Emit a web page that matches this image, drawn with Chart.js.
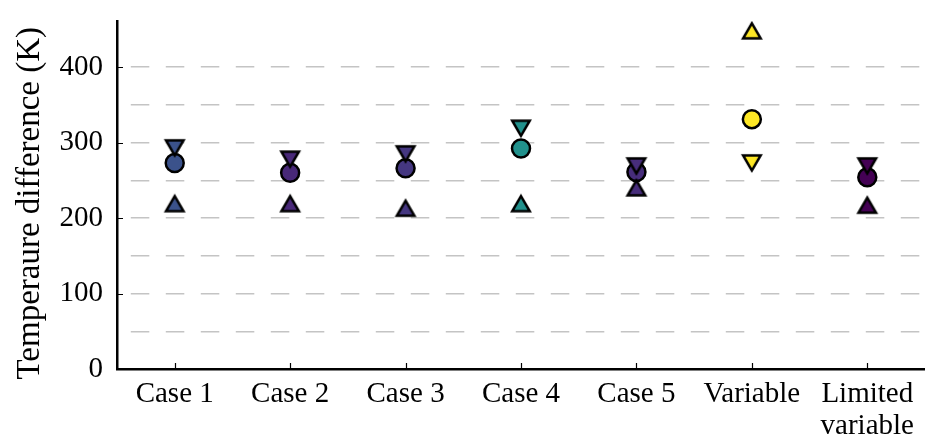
<!DOCTYPE html>
<html>
<head>
<meta charset="utf-8">
<script src="https://cdn.jsdelivr.net/npm/chart.js@4/dist/chart.umd.min.js"></script>
<style>
  html, body { margin: 0; padding: 0; background: #ffffff; }
  #wrap { width: 925px; height: 442px; position: relative; }
</style>
</head>
<body>
<div id="wrap"><canvas id="chart" width="925" height="442"></canvas></div>
<script>
// Simulation cases
const cases = ['Case 1', 'Case 2', 'Case 3', 'Case 4', 'Case 5', 'Variable', ['Limited', 'variable']];

// Temperature differences (K) per case
const maxDiff  = [293, 278, 285, 319, 269, 273, 269];
const meanDiff = [273, 260, 266, 292, 261, 331, 254];
const minDiff  = [219, 219, 213, 219, 240, 448, 217];

// One colour per case
const caseColors = ['#3b528b', '#482878', '#453781', '#21918c', '#472d7b', '#fde725', '#440154'];

const FONT = "'Liberation Serif', 'Times New Roman', serif";

// Triangle marker drawn around the centre of its bounding box
function triangleMarker(color, pointDown) {
  const size = 30;
  const c = document.createElement('canvas');
  c.width = size; c.height = size;
  const g = c.getContext('2d');
  const cx = size / 2, cy = size / 2;
  const hw = 8.8, hh = 7.6;
  g.beginPath();
  if (pointDown) {
    g.moveTo(cx, cy + hh);
    g.lineTo(cx - hw, cy - hh);
    g.lineTo(cx + hw, cy - hh);
  } else {
    g.moveTo(cx, cy - hh);
    g.lineTo(cx - hw, cy + hh);
    g.lineTo(cx + hw, cy + hh);
  }
  g.closePath();
  g.fillStyle = color;
  g.fill();
  g.lineWidth = 2.5;
  g.lineJoin = 'miter';
  g.strokeStyle = '#000000';
  g.stroke();
  return c;
}

const downMarkers = caseColors.map(c => triangleMarker(c, true));
const upMarkers = caseColors.map(c => triangleMarker(c, false));

// Inward tick marks on both axes
const inwardTicks = {
  id: 'inwardTicks',
  afterDraw(chart) {
    const ctx = chart.ctx;
    const xs = chart.scales.x, ys = chart.scales.y;
    ctx.save();
    ctx.strokeStyle = '#000000';
    ctx.lineWidth = 1.2;
    ctx.beginPath();
    for (let i = 0; i < cases.length; i++) {
      const px = Math.round(xs.getPixelForTick(i)) + 0.5;
      ctx.moveTo(px, ys.bottom);
      ctx.lineTo(px, ys.bottom - 6);
    }
    ys.ticks.forEach(t => {
      if (t.value % 100 === 0) {
        const py = Math.round(ys.getPixelForValue(t.value)) + 0.5;
        ctx.moveTo(xs.left, py);
        ctx.lineTo(xs.left + 6, py);
      }
    });
    ctx.stroke();
    ctx.restore();
  }
};

new Chart(document.getElementById('chart'), {
  type: 'line',
  data: {
    labels: cases,
    datasets: [
      {
        label: 'Maximum',
        data: maxDiff,
        showLine: false,
        pointStyle: downMarkers,
        order: 1
      },
      {
        label: 'Minimum',
        data: minDiff,
        showLine: false,
        pointStyle: upMarkers,
        order: 2
      },
      {
        label: 'Mean',
        data: meanDiff,
        showLine: false,
        pointStyle: 'circle',
        pointRadius: 9,
        pointBorderWidth: 2.5,
        pointBackgroundColor: caseColors,
        pointBorderColor: '#000000',
        order: 3
      }
    ]
  },
  options: {
    responsive: false,
    animation: false,
    events: [],
    layout: { autoPadding: false, padding: { top: 21, right: 0, left: 0, bottom: 0 } },
    plugins: {
      legend: { display: false },
      tooltip: { enabled: false }
    },
    scales: {
      x: {
        offset: true,
        grid: { display: false, drawTicks: false },
        border: { display: true, color: '#000000', width: 2.5 },
        ticks: {
          color: '#000000',
          padding: 9,
          maxRotation: 0,
          autoSkip: false,
          font: { family: FONT, size: 29, lineHeight: 1.12 }
        },
        afterFit(scale) {
          scale.height = 73;
          scale.paddingLeft = 0;
          scale.paddingRight = 0;
        }
      },
      y: {
        min: 0,
        max: 461,
        z: 1,
        grid: {
          drawTicks: false,
          color: ctx => (ctx.tick && ctx.tick.value === 0) ? 'rgba(0,0,0,0)' : '#c4c4c4',
          lineWidth: 1.5
        },
        border: { display: true, color: '#000000', width: 2.5, dash: [18.5, 16.5], dashOffset: 22.7 },
        ticks: {
          stepSize: 50,
          color: '#000000',
          padding: 14,
          font: { family: FONT, size: 29 },
          callback: v => (v % 100 === 0 ? String(v) : '')
        },
        afterBuildTicks(scale) {
          scale.ticks = scale.ticks.filter(t => t.value % 50 === 0);
        },
        title: {
          display: true,
          text: 'Temperaure difference (K)  ',
          color: '#000000',
          font: { family: FONT, size: 33 },
          padding: { top: 11, bottom: 0 }
        },
        afterFit(scale) {
          scale.width = 117;
          scale.paddingTop = 0;
          scale.paddingBottom = 0;
        }
      }
    }
  },
  plugins: [inwardTicks]
});
</script>
</body>
</html>
